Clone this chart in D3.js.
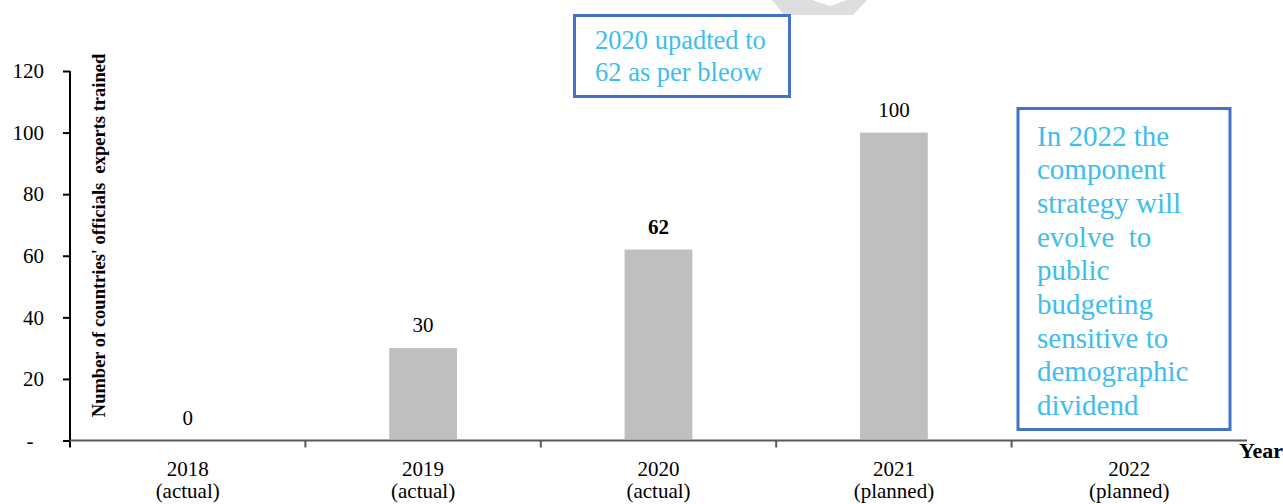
<!DOCTYPE html>
<html>
<head>
<meta charset="utf-8">
<script src="https://cdn.jsdelivr.net/npm/d3@7"></script>
<style>
  html, body { margin: 0; padding: 0; background: #fff; }
  svg { display: block; }
</style>
</head>
<body>
<svg id="chart" width="1283" height="504"></svg>
<script>
// Officials / experts trained per year
const years   = ["2018", "2019", "2020", "2021", "2022"];
const status  = ["(actual)", "(actual)", "(actual)", "(planned)", "(planned)"];
const trained = [0, 30, 62, 100, null];
const boldLabel = [false, false, true, false, false];
const yTicks  = [0, 20, 40, 60, 80, 100, 120];

const noteTop  = ["2020 upadted to", "62 as per bleow"];
const noteSide = ["In 2022 the", "component", "strategy will", "evolve  to", "public",
                  "budgeting", "sensitive to", "demographic", "dividend"];

const SERIF = "'Liberation Serif', 'Times New Roman', serif";
const plot = { left: 70, right: 1247, top: 71, bottom: 440.5 };

const svg = d3.select("#chart");

const x = d3.scaleBand().domain(years).range([plot.left, plot.right]).padding(0);
const y = d3.scaleLinear().domain([0, 120]).range([plot.bottom, plot.top]);
const barW = x.bandwidth() * 0.288;
const cx = d => x(d) + x.bandwidth() / 2;

// faint watermark fragment at the top edge
svg.append("polygon")
  .attr("points", "772,0 812,0 830,6 847,0 867,0 853,15 784,15")
  .attr("fill", "#dedede");

// bars
const rows = years.map((yr, i) => ({ yr, st: status[i], v: trained[i], bold: boldLabel[i] }));
svg.append("g").selectAll("rect")
  .data(rows.filter(d => d.v !== null && d.v > 0))
  .join("rect")
  .attr("x", d => cx(d.yr) - barW / 2)
  .attr("width", barW)
  .attr("y", d => y(d.v))
  .attr("height", d => y(0) - y(d.v) - 1.5)
  .attr("fill", "#bfbfbf");

// value labels
svg.append("g").selectAll("text")
  .data(rows.filter(d => d.v !== null))
  .join("text")
  .attr("x", d => cx(d.yr))
  .attr("y", d => y(d.v) - 16)
  .attr("text-anchor", "middle")
  .style("font-family", SERIF)
  .style("font-size", "21px")
  .style("font-weight", d => d.bold ? "bold" : "normal")
  .attr("fill", "#000")
  .text(d => d.v);

// y axis
const yAxis = d3.axisLeft(y).tickValues(yTicks).tickSize(7).tickPadding(19)
  .tickFormat(d => d === 0 ? "-\u00a0\u00a0" : d);
const gy = svg.append("g").attr("transform", `translate(${plot.left},0)`).call(yAxis)
  .attr("font-family", null).attr("font-size", null);
gy.select(".domain").attr("d", `M0,${plot.top}V${plot.bottom + 7}`)
  .attr("stroke", "#000").attr("stroke-width", 2);
gy.selectAll(".tick line").attr("stroke", "#000").attr("stroke-width", 2);
gy.selectAll(".tick text")
  .style("font-family", SERIF)
  .style("font-size", "21px").attr("fill", "#000")
  .style("white-space", "pre");

// x axis with ticks at category boundaries
const gx = svg.append("g");
gx.append("line")
  .attr("x1", plot.left).attr("x2", plot.right)
  .attr("y1", y(0)).attr("y2", y(0))
  .attr("stroke", "#595959").attr("stroke-width", 2);
gx.selectAll("line.b")
  .data(years.slice(1))
  .join("line").attr("class", "b")
  .attr("x1", d => x(d)).attr("x2", d => x(d))
  .attr("y1", y(0)).attr("y2", y(0) + 7)
  .attr("stroke", "#595959").attr("stroke-width", 2);

gx.selectAll("text.yr")
  .data(rows)
  .join("text").attr("class", "yr")
  .attr("x", d => cx(d.yr)).attr("y", 475.5)
  .attr("text-anchor", "middle")
  .style("font-family", SERIF).style("font-size", "21px").attr("fill", "#000")
  .text(d => d.yr);
gx.selectAll("text.st")
  .data(rows)
  .join("text").attr("class", "st")
  .attr("x", d => cx(d.yr)).attr("y", 498)
  .attr("text-anchor", "middle")
  .style("font-family", SERIF).style("font-size", "21px").attr("fill", "#000")
  .text(d => d.st);

// axis titles
svg.append("text")
  .attr("x", 1283).attr("y", 458)
  .attr("text-anchor", "end")
  .style("font-family", SERIF)
  .style("font-size", "22px").style("font-weight", "bold")
  .text("Year");

svg.append("text")
  .attr("transform", `translate(105,${(53 + 418) / 2}) rotate(-90)`)
  .attr("text-anchor", "middle")
  .style("font-family", SERIF)
  .style("font-size", "18.5px").style("font-weight", "bold")
  .style("white-space", "pre")
  .text("Number of countries' officials  experts trained");

// callout boxes
function callout(x0, y0, w, h, lines, fs, tx, ty, lh) {
  const g = svg.append("g");
  g.append("rect").attr("x", x0).attr("y", y0).attr("width", w).attr("height", h)
    .attr("fill", "#fff").attr("stroke", "#4472c4").attr("stroke-width", 3);
  g.append("text").style("font-family", SERIF).style("font-size", fs + "px").attr("fill", "#3ebdee")
    .style("white-space", "pre")
    .selectAll("tspan").data(lines).join("tspan")
    .attr("x", tx).attr("y", (d, i) => ty + i * lh).text(d => d);
}
callout(574.5, 15.5, 215, 81, noteTop, 26.5, 595, 48.5, 32);
callout(1018, 108.5, 212, 321, noteSide, 29, 1037, 145.5, 33.7);
</script>
</body>
</html>
